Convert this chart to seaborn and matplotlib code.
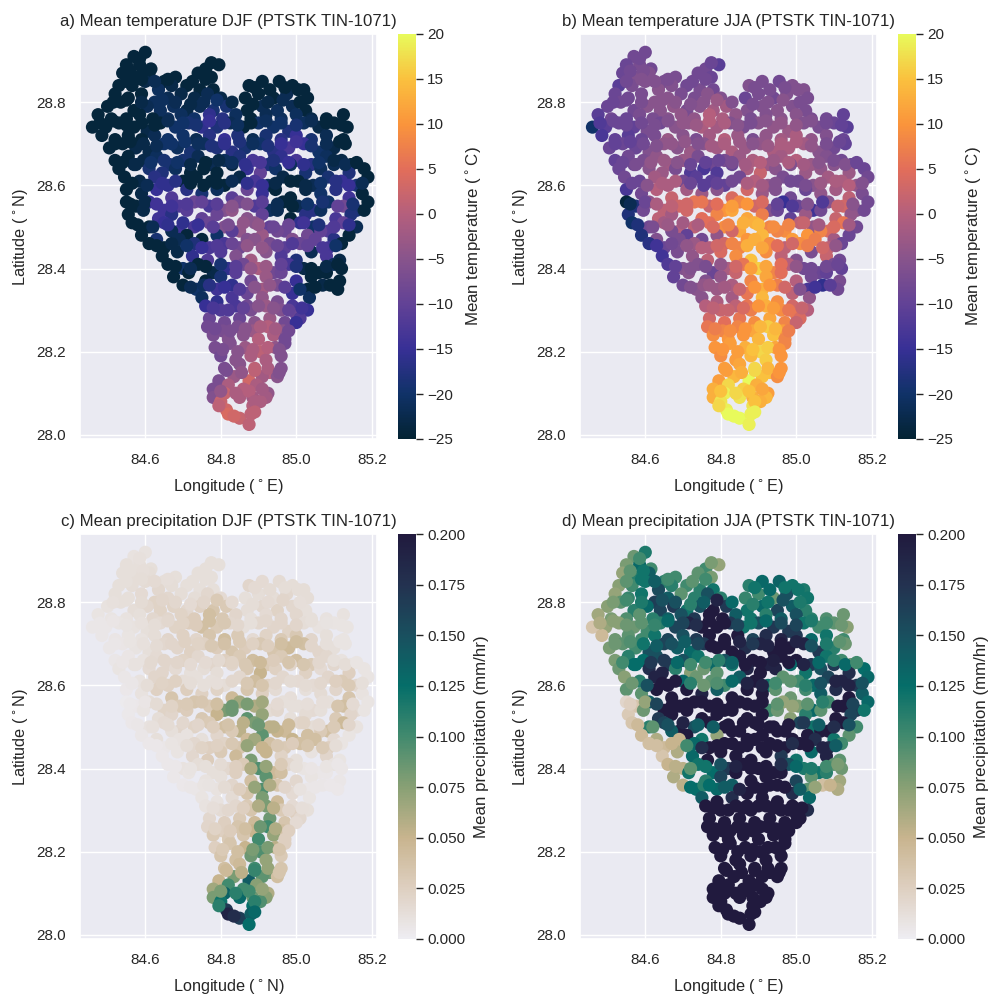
import numpy as np
import pandas as pd
import matplotlib
matplotlib.use('Agg')
import matplotlib.pyplot as plt
import seaborn as sns
from matplotlib.colors import LinearSegmentedColormap, Normalize
from matplotlib.cm import ScalarMappable

# one line per band of latitude, north to south, second block fills the gaps
lon = [
    84.57, 84.60,
    84.55, 84.585, 84.615, 84.76, 84.795,
    84.54, 84.575, 84.61, 84.65, 84.68, 84.74, 84.775,
    84.53, 84.565, 84.60, 84.635, 84.67, 84.71, 84.745, 84.78, 84.875, 84.91, 84.955, 84.99, 85.02,
    84.52, 84.555, 84.59, 84.625, 84.66, 84.695, 84.73, 84.765, 84.80, 84.865, 84.90, 84.94, 84.975, 85.03,
    84.50, 84.535, 84.57, 84.605, 84.64, 84.675, 84.71, 84.745, 84.78, 84.815, 84.87, 84.91, 84.95, 84.99, 85.025,
    84.475, 84.51, 84.55, 84.585, 84.62, 84.66, 84.695, 84.73, 84.77, 84.805, 84.84, 84.88, 84.92, 84.96, 85.0, 85.04, 85.08, 85.125,
    84.46, 84.495, 84.53, 84.57, 84.605, 84.64, 84.68, 84.715, 84.75, 84.79, 84.825, 84.86, 84.90, 84.94, 84.98, 85.02, 85.06, 85.10, 85.135,
    84.485, 84.52, 84.555, 84.59, 84.625, 84.66, 84.70, 84.735, 84.77, 84.81, 84.845, 84.885, 84.92, 84.96, 85.0, 85.04, 85.08, 85.125,
    84.505, 84.54, 84.575, 84.61, 84.65, 84.685, 84.72, 84.755, 84.79, 84.83, 84.865, 84.905, 84.94, 84.98, 85.02, 85.06, 85.10, 85.13,
    84.52, 84.555, 84.595, 84.63, 84.665, 84.70, 84.74, 84.775, 84.81, 84.85, 84.885, 84.925, 84.96, 85.0, 85.04, 85.08, 85.12, 85.145,
    84.53, 84.57, 84.61, 84.645, 84.68, 84.72, 84.755, 84.79, 84.83, 84.87, 84.905, 84.945, 84.985, 85.025, 85.065, 85.10, 85.14, 85.18,
    84.545, 84.585, 84.625, 84.66, 84.70, 84.735, 84.775, 84.81, 84.85, 84.89, 84.925, 84.965, 85.005, 85.045, 85.085, 85.12, 85.16, 85.19,
    84.55, 84.59, 84.63, 84.67, 84.71, 84.75, 84.79, 84.83, 84.87, 84.91, 84.945, 84.985, 85.025, 85.065, 85.105, 85.14, 85.175,
    84.55, 84.575, 84.61, 84.65, 84.69, 84.73, 84.77, 84.81, 84.85, 84.89, 84.93, 84.965, 85.005, 85.045, 85.085, 85.125, 85.16, 85.19,
    84.555, 84.595, 84.635, 84.67, 84.71, 84.75, 84.79, 84.83, 84.87, 84.91, 84.95, 84.985, 85.025, 85.065, 85.105, 85.145, 85.18,
    84.565, 84.61, 84.65, 84.69, 84.73, 84.77, 84.81, 84.85, 84.89, 84.93, 84.97, 85.01, 85.045, 85.085, 85.125, 85.16,
    84.59, 84.63, 84.67, 84.71, 84.75, 84.79, 84.83, 84.87, 84.91, 84.95, 84.99, 85.03, 85.065, 85.10, 85.14,
    84.61, 84.65, 84.69, 84.73, 84.77, 84.81, 84.85, 84.89, 84.93, 84.97, 85.01, 85.05, 85.085, 85.12,
    84.645, 84.685, 84.725, 84.765, 84.80, 84.84, 84.88, 84.92, 84.96, 85.0, 85.04, 85.08, 85.115,
    84.66, 84.70, 84.74, 84.78, 84.82, 84.86, 84.90, 84.94, 84.98, 85.02, 85.06, 85.10, 85.12,
    84.675, 84.715, 84.76, 84.80, 84.84, 84.88, 84.92, 84.96, 85.0, 85.04, 85.08, 85.115,
    84.70, 84.735, 84.755, 84.79, 84.83, 84.87, 84.91, 84.95, 84.99, 85.03, 85.07, 85.11,
    84.75, 84.79, 84.83, 84.87, 84.91, 84.95, 84.99, 85.035,
    84.76, 84.80, 84.84, 84.88, 84.92, 84.96, 85.0, 85.03,
    84.77, 84.81, 84.85, 84.89, 84.93, 84.97, 85.01,
    84.765, 84.805, 84.845, 84.885, 84.925, 84.965, 85.0,
    84.78, 84.82, 84.86, 84.90, 84.94, 84.97,
    84.785, 84.825, 84.865, 84.905, 84.945, 84.97,
    84.80, 84.84, 84.88, 84.92, 84.96,
    84.81, 84.85, 84.89, 84.93, 84.96,
    84.795, 84.835, 84.875, 84.91, 84.95,
    84.78, 84.82, 84.86, 84.895, 84.925,
    84.78, 84.81, 84.85, 84.885, 84.92,
    84.80, 84.815, 84.885, 84.905,
    84.82, 84.85, 84.88,
    84.875,
    # gaps
    84.585, 84.56, 84.595, 84.775,
    84.55, 84.59, 84.625, 84.66, 84.725, 84.76, 84.89, 84.93, 84.97, 85.005,
    84.515, 84.55, 84.59, 84.645, 84.68, 84.72, 84.755, 84.79, 84.83, 84.885, 84.925, 84.965, 85.01,
    84.48, 84.515, 84.55, 84.59, 84.625, 84.66, 84.70, 84.735, 84.77, 84.81, 84.845, 84.88, 84.92, 84.96, 85.0, 85.04, 85.08, 85.12,
    84.52, 84.56, 84.595, 84.63, 84.67, 84.705, 84.74, 84.775, 84.81, 84.85, 84.885, 84.925, 84.96, 85.0, 85.04, 85.08, 85.115,
    84.54, 84.575, 84.615, 84.65, 84.685, 84.72, 84.76, 84.795, 84.83, 84.865, 84.905, 84.94, 84.98, 85.02, 85.06, 85.10, 85.13, 85.16,
    84.565, 84.605, 84.645, 84.68, 84.72, 84.755, 84.79, 84.83, 84.87, 84.91, 84.945, 84.985, 85.025, 85.065, 85.105, 85.14, 85.175,
    84.56, 84.60, 84.63, 84.67, 84.71, 84.75, 84.79, 84.83, 84.87, 84.91, 84.95, 84.99, 85.03, 85.07, 85.11, 85.15,
    84.58, 84.62, 84.66, 84.70, 84.74, 84.78, 84.82, 84.86, 84.90, 84.94, 84.98, 85.02, 85.06, 85.10, 85.14,
    84.63, 84.67, 84.71, 84.75, 84.79, 84.83, 84.87, 84.91, 84.95, 84.99, 85.03, 85.07, 85.105,
    84.68, 84.72, 84.76, 84.80, 84.84, 84.88, 84.92, 84.96, 85.0, 85.04, 85.08, 85.11,
    84.72, 84.77, 84.81, 84.85, 84.89, 84.93, 84.97, 85.01, 85.05, 85.09,
    84.78, 84.82, 84.86, 84.90, 84.94, 84.98, 85.015,
    84.785, 84.825, 84.865, 84.905, 84.945, 84.98,
    84.805, 84.845, 84.885, 84.925, 84.955,
    84.815, 84.855, 84.89, 84.925, 84.955,
    84.80, 84.84, 84.875, 84.91,
    84.795, 84.89,
    84.835, 84.89,
]
lat = [
    28.91, 28.92,
    28.89, 28.89, 28.88, 28.88, 28.89,
    28.87, 28.86, 28.87, 28.85, 28.86, 28.87, 28.86,
    28.84, 28.84, 28.85, 28.83, 28.84, 28.84, 28.83, 28.83, 28.84, 28.85, 28.85, 28.84, 28.83,
    28.82, 28.81, 28.82, 28.80, 28.81, 28.82, 28.81, 28.82, 28.81, 28.81, 28.82, 28.81, 28.82, 28.81,
    28.79, 28.80, 28.78, 28.79, 28.78, 28.79, 28.78, 28.79, 28.78, 28.79, 28.78, 28.79, 28.78, 28.79, 28.78,
    28.77, 28.76, 28.76, 28.77, 28.76, 28.76, 28.77, 28.76, 28.77, 28.76, 28.77, 28.76, 28.77, 28.76, 28.77, 28.76, 28.76, 28.77,
    28.74, 28.74, 28.75, 28.74, 28.73, 28.75, 28.74, 28.75, 28.74, 28.74, 28.75, 28.74, 28.75, 28.74, 28.73, 28.75, 28.74, 28.75, 28.74,
    28.72, 28.71, 28.72, 28.71, 28.72, 28.71, 28.72, 28.71, 28.72, 28.71, 28.72, 28.71, 28.72, 28.71, 28.72, 28.71, 28.72, 28.71,
    28.69, 28.70, 28.69, 28.68, 28.70, 28.69, 28.68, 28.70, 28.69, 28.68, 28.69, 28.70, 28.68, 28.69, 28.70, 28.68, 28.69, 28.70,
    28.66, 28.67, 28.66, 28.67, 28.65, 28.66, 28.67, 28.65, 28.66, 28.67, 28.66, 28.65, 28.67, 28.66, 28.65, 28.67, 28.66, 28.65,
    28.64, 28.65, 28.64, 28.63, 28.64, 28.63, 28.64, 28.63, 28.65, 28.64, 28.63, 28.64, 28.65, 28.63, 28.64, 28.65, 28.63, 28.64,
    28.62, 28.61, 28.62, 28.60, 28.61, 28.62, 28.61, 28.60, 28.62, 28.61, 28.60, 28.62, 28.61, 28.60, 28.62, 28.61, 28.60, 28.62,
    28.59, 28.58, 28.59, 28.57, 28.59, 28.58, 28.59, 28.57, 28.59, 28.58, 28.59, 28.57, 28.59, 28.58, 28.59, 28.57, 28.58,
    28.56, 28.55, 28.56, 28.54, 28.55, 28.56, 28.55, 28.54, 28.56, 28.55, 28.54, 28.56, 28.55, 28.54, 28.56, 28.55, 28.54, 28.56,
    28.53, 28.54, 28.52, 28.53, 28.54, 28.52, 28.53, 28.54, 28.52, 28.53, 28.54, 28.52, 28.53, 28.54, 28.52, 28.53, 28.54,
    28.51, 28.50, 28.51, 28.49, 28.50, 28.51, 28.50, 28.49, 28.51, 28.50, 28.49, 28.51, 28.50, 28.49, 28.51, 28.50,
    28.48, 28.47, 28.49, 28.48, 28.47, 28.48, 28.49, 28.47, 28.48, 28.49, 28.47, 28.48, 28.49, 28.47, 28.48,
    28.46, 28.45, 28.47, 28.46, 28.45, 28.46, 28.45, 28.47, 28.46, 28.45, 28.46, 28.47, 28.45, 28.46,
    28.43, 28.44, 28.43, 28.42, 28.44, 28.43, 28.42, 28.44, 28.43, 28.42, 28.44, 28.43, 28.42,
    28.41, 28.40, 28.41, 28.39, 28.40, 28.41, 28.40, 28.39, 28.41, 28.40, 28.39, 28.41, 28.40,
    28.38, 28.39, 28.37, 28.38, 28.39, 28.37, 28.38, 28.39, 28.37, 28.38, 28.39, 28.37,
    28.36, 28.35, 28.36, 28.35, 28.36, 28.34, 28.35, 28.36, 28.34, 28.35, 28.36, 28.35,
    28.33, 28.32, 28.33, 28.31, 28.33, 28.32, 28.31, 28.33,
    28.31, 28.30, 28.31, 28.30, 28.31, 28.30, 28.29, 28.30,
    28.28, 28.27, 28.28, 28.27, 28.28, 28.27, 28.28,
    28.26, 28.25, 28.26, 28.25, 28.26, 28.25, 28.27,
    28.24, 28.23, 28.24, 28.23, 28.24, 28.23,
    28.21, 28.22, 28.21, 28.20, 28.21, 28.22,
    28.19, 28.18, 28.19, 28.18, 28.19,
    28.16, 28.17, 28.16, 28.15, 28.16,
    28.13, 28.14, 28.13, 28.14, 28.14,
    28.11, 28.12, 28.11, 28.12, 28.10,
    28.09, 28.10, 28.09, 28.09, 28.09,
    28.08, 28.06, 28.07, 28.08,
    28.05, 28.04, 28.05,
    28.025,
    # gaps
    28.905, 28.875, 28.875, 28.895,
    28.85, 28.855, 28.85, 28.855, 28.85, 28.855, 28.835, 28.83, 28.835, 28.83,
    28.80, 28.805, 28.80, 28.805, 28.80, 28.795, 28.80, 28.805, 28.80, 28.795, 28.80, 28.805, 28.80,
    28.75, 28.755, 28.745, 28.75, 28.745, 28.755, 28.75, 28.745, 28.755, 28.75, 28.745, 28.75, 28.755, 28.75, 28.745, 28.755, 28.75, 28.745,
    28.70, 28.705, 28.70, 28.695, 28.70, 28.705, 28.70, 28.695, 28.70, 28.705, 28.70, 28.695, 28.70, 28.705, 28.695, 28.70, 28.705,
    28.655, 28.65, 28.655, 28.66, 28.655, 28.65, 28.655, 28.66, 28.655, 28.65, 28.655, 28.66, 28.655, 28.65, 28.655, 28.66, 28.65, 28.655,
    28.605, 28.60, 28.605, 28.61, 28.605, 28.60, 28.605, 28.61, 28.605, 28.60, 28.605, 28.61, 28.60, 28.605, 28.61, 28.60, 28.605,
    28.555, 28.56, 28.555, 28.55, 28.555, 28.56, 28.555, 28.55, 28.555, 28.56, 28.555, 28.55, 28.555, 28.56, 28.55, 28.555,
    28.505, 28.50, 28.505, 28.51, 28.505, 28.50, 28.505, 28.51, 28.505, 28.50, 28.505, 28.51, 28.505, 28.50, 28.505,
    28.455, 28.46, 28.455, 28.45, 28.455, 28.46, 28.455, 28.45, 28.455, 28.46, 28.455, 28.45, 28.455,
    28.405, 28.40, 28.405, 28.41, 28.405, 28.40, 28.405, 28.41, 28.405, 28.40, 28.405, 28.41,
    28.355, 28.36, 28.355, 28.35, 28.355, 28.36, 28.355, 28.35, 28.355, 28.36,
    28.305, 28.30, 28.305, 28.31, 28.305, 28.30, 28.305,
    28.255, 28.25, 28.255, 28.26, 28.255, 28.25,
    28.205, 28.20, 28.205, 28.21, 28.205,
    28.155, 28.15, 28.155, 28.16, 28.15,
    28.105, 28.10, 28.105, 28.11,
    28.07, 28.08,
    28.045, 28.055,
]
temp_djf = [
    -24, -24,
    -24, -24, -24, -24, -24,
    -24, -24, -24, -24, -24, -24, -24,
    -24, -24, -23, -21, -23, -24, -24, -24, -24, -24, -24, -24, -24,
    -24, -24, -24, -21, -22, -23, -23, -22, -23, -24, -24, -24, -22, -24,
    -24, -24, -24, -22, -21, -21, -23, -22, -19, -19, -24, -22, -21, -22, -24,
    -24, -24, -24, -24, -24, -21, -21, -20, -16, -17, -21, -24, -22, -21, -21, -23, -24, -24,
    -24, -24, -24, -24, -23, -24, -20, -19, -16, -18, -22, -24, -20, -20, -18, -21, -23, -24, -24,
    -24, -24, -24, -24, -22, -20, -20, -22, -17, -15, -18, -22, -19, -17, -15, -19, -22, -24,
    -24, -24, -23, -23, -20, -21, -19, -21, -18, -17, -19, -20, -17, -13, -15, -20, -23, -24,
    -24, -24, -23, -21, -19, -19, -22, -22, -21, -18, -13, -18, -16, -13, -17, -21, -23, -24,
    -24, -23, -19, -18, -21, -24, -24, -24, -23, -15, -10, -20, -21, -19, -21, -22, -18, -24,
    -24, -23, -17, -16, -24, -24, -24, -24, -23, -13, -21, -23, -24, -22, -19, -15, -19, -24,
    -24, -23, -15, -12, -17, -19, -21, -11, -9, -15, -24, -24, -23, -20, -17, -14, -24,
    -24, -24, -15, -14, -12, -9, -13, -6, -8, -12, -21, -24, -22, -17, -20, -8, -19, -24,
    -24, -23, -14, -17, -11, -10, -9, -4, -5, -10, -22, -24, -17, -21, -13, -18, -24,
    -24, -24, -15, -14, -13, -9, -6, -4, -5, -10, -9, -16, -20, -12, -10, -22,
    -24, -19, -22, -24, -24, -20, -11, -6, -3, -8, -6, -8, -10, -17, -24,
    -24, -24, -22, -18, -13, -13, -8, -5, -7, -11, -9, -10, -14, -24,
    -24, -23, -16, -12, -12, -6, -2, -5, -12, -18, -22, -13, -23,
    -24, -20, -24, -23, -16, -8, -1, -8, -13, -23, -24, -21, -24,
    -24, -24, -24, -19, -11, -8, -3, -9, -15, -24, -24, -24,
    -24, -20, -21, -14, -16, -9, -2, -7, -15, -24, -23, -24,
    -21, -16, -13, -8, -4, -7, -13, -21,
    -15, -12, -13, -7, -3, -6, -9, -15,
    -9, -8, -9, -5, -3, -8, -12,
    -8, -7, -7, -3, 0, -5, -15,
    -7, -6, -5, 0, -1, -8,
    -7, -6, -3, 1, -4, -8,
    -8, -5, -1, -1, -6,
    -7, -5, 1, 0, -6,
    -7, -3, 3, -2, -5,
    -7, -1, 0, -1, -4,
    -6, 2, -1, -2, -2,
    2, 3, 0, -1,
    4, 2, 1,
    1,
    # gaps
    -24, -24, -24, -24,
    -24, -24, -22, -24, -24, -24, -24, -24, -24, -24,
    -24, -24, -23, -21, -22, -23, -22, -20, -23, -24, -23, -22, -24,
    -24, -24, -24, -24, -24, -22, -20, -19, -15, -17, -21, -24, -21, -20, -19, -22, -24, -24,
    -24, -24, -23, -22, -20, -20, -21, -18, -16, -18, -21, -18, -15, -14, -19, -22, -24,
    -24, -23, -20, -19, -20, -23, -24, -23, -21, -16, -13, -18, -15, -16, -20, -23, -22, -24,
    -24, -22, -16, -17, -24, -24, -24, -22, -16, -15, -23, -24, -23, -20, -17, -15, -22,
    -24, -23, -14, -14, -12, -10, -11, -5, -6, -11, -22, -24, -20, -19, -10, -19,
    -24, -22, -16, -16, -15, -11, -7, -4, -4, -9, -9, -14, -18, -12, -16,
    -24, -23, -20, -15, -12, -9, -4, -4, -9, -12, -10, -13, -20,
    -24, -22, -24, -19, -11, -4, -3, -10, -18, -24, -23, -24,
    -22, -17, -15, -12, -5, -4, -11, -20, -24, -24,
    -13, -12, -10, -5, -5, -10, -14,
    -8, -7, -5, -1, -2, -8,
    -7, -5, -1, 0, -6,
    -7, -4, 1, -1, -6,
    -4, -1, 0, -2,
    1, -1,
    3, 1,
]
temp_jja = [
    -8, -8,
    -9, -7, -8, -8, -11,
    -9, -6, -6, -7, -7, -8, -9,
    -11, -7, -6, -5, -6, -8, -7, -8, -6, -7, -8, -6, -6,
    -9, -8, -7, -5, -5, -7, -7, -5, -6, -9, -7, -8, -6, -7,
    -9, -8, -8, -5, -5, -4, -7, -5, -2, -2, -6, -6, -5, -6, -7,
    -11, -8, -9, -7, -7, -5, -4, -4, 0, -1, -4, -7, -6, -5, -5, -7, -8, -10,
    -20, -11, -9, -10, -7, -8, -5, -4, -1, -2, -6, -7, -5, -4, -3, -6, -7, -9, -11,
    -13, -10, -11, -9, -7, -3, -5, -7, -2, 0, -3, -7, -4, -2, -1, -4, -6, -9,
    -9, -9, -9, -6, -4, -5, -3, -5, -2, -1, -3, -4, -1, -1, -2, -5, -8, -10,
    -10, -8, -7, -4, -2, -3, -7, -8, -7, -3, -1, -3, -2, 0, -3, -6, -8, -9,
    -9, -8, -5, -3, -7, -12, -13, -12, -9, -1, 2, -5, -6, -3, -4, -5, -3, -9,
    -8, -9, -2, -1, -8, -11, -11, -10, -8, 0, -4, -7, -8, -5, -2, -1, -4, -8,
    -13, -8, 0, 2, -2, -3, -5, 4, 3, -3, -6, -8, -9, -4, -2, 1, -7,
    -24, -18, -4, 1, 3, 6, 2, 10, 8, 3, -6, -15, -9, -14, -5, 3, -5, -8,
    -18, -8, 1, -2, 3, 5, 8, 12, 12, 7, -9, -10, -3, -8, 2, -4, -8,
    -20, -8, -2, 0, 1, 5, 9, 12, 13, 8, 9, 1, -4, 4, 6, -8,
    -18, -6, -7, -10, -8, -4, 3, 10, 14, 8, 11, 10, 8, -2, -9,
    -17, -9, -7, -3, 0, 3, 8, 13, 9, 1, 9, 7, 1, -9,
    -14, -7, -4, 1, 4, 9, 15, 9, 1, -6, -7, 2, -8,
    -12, -6, -6, -9, -1, 6, 16, 8, 0, -8, -9, -7, -10,
    -10, -5, -6, -4, 2, 8, 12, 5, 0, -8, -10, -7,
    -8, -5, -4, -3, -1, 6, 13, 7, 1, -13, -16, -8,
    -5, -1, -2, 6, 14, 9, 3, -4,
    0, 2, 1, 7, 13, 9, 6, 0,
    3, 5, 6, 9, 12, 8, 4,
    6, 8, 8, 12, 16, 11, 2,
    9, 10, 10, 14, 15, 8,
    10, 11, 13, 17, 12, 8,
    9, 11, 14, 16, 10,
    11, 12, 17, 15, 10,
    11, 14, 20, 15, 9,
    13, 17, 16, 13, 11,
    13, 19, 18, 13, 14,
    18, 19, 18, 13,
    20, 20, 19,
    19,
    # gaps
    -8, -8, -7, -9,
    -8, -6, -6, -7, -8, -8, -7, -7, -7, -6,
    -9, -8, -7, -5, -5, -6, -5, -3, -6, -7, -6, -5, -7,
    -12, -9, -9, -8, -7, -6, -4, -3, 0, -1, -5, -7, -5, -4, -4, -6, -8, -10,
    -10, -10, -8, -6, -4, -4, -6, -2, -1, -3, -5, -3, -1, -1, -4, -7, -9,
    -9, -7, -4, -3, -5, -9, -10, -9, -7, -2, 0, -3, -1, -2, -5, -7, -6, -9,
    -9, -5, -1, -1, -9, -11, -10, -8, -1, -2, -6, -8, -7, -3, -1, 0, -6,
    -22, -9, -1, 1, 3, 6, 5, 11, 10, 4, -10, -12, -6, -12, 2, -5,
    -18, -7, -3, -2, -1, 4, 8, 13, 14, 9, 8, 2, -2, 4, -2,
    -14, -8, -4, 0, 3, 8, 13, 12, 5, 3, 7, 3, -4,
    -10, -6, -7, -4, 3, 11, 12, 5, -4, -8, -8, -9,
    -6, -3, -2, 2, 10, 10, 3, -6, -14, -11,
    1, 2, 4, 10, 11, 6, 2,
    7, 9, 10, 14, 14, 7,
    10, 11, 15, 16, 10,
    11, 13, 17, 14, 10,
    15, 17, 15, 12,
    17, 15,
    20, 19,
]
precip_djf = [
    .010, .010,
    .012, .012, .012, .012, .012,
    .012, .014, .014, .012, .012, .012, .012,
    .012, .014, .015, .018, .014, .012, .012, .012, .020, .016, .015, .014, .014,
    .012, .012, .016, .022, .018, .014, .014, .018, .016, .012, .014, .014, .018, .014,
    .010, .012, .014, .018, .022, .022, .018, .024, .035, .030, .014, .018, .022, .018, .012,
    .008, .008, .010, .012, .018, .020, .022, .028, .040, .032, .020, .012, .016, .020, .018, .012, .010, .010,
    .006, .006, .008, .010, .012, .016, .022, .028, .040, .030, .018, .012, .018, .020, .022, .014, .010, .008, .008,
    .006, .007, .008, .010, .014, .020, .024, .020, .035, .042, .030, .016, .022, .030, .032, .020, .012, .008,
    .006, .007, .009, .012, .018, .020, .024, .024, .028, .035, .028, .032, .035, .045, .040, .020, .012, .008,
    .006, .007, .010, .016, .020, .022, .018, .020, .025, .030, .042, .030, .030, .040, .030, .018, .010, .008,
    .008, .010, .016, .020, .016, .012, .014, .014, .020, .032, .050, .024, .020, .024, .016, .018, .025, .008,
    .006, .010, .020, .024, .014, .012, .012, .014, .018, .042, .022, .018, .016, .016, .020, .030, .018, .008,
    .005, .010, .024, .035, .026, .024, .022, .045, .035, .025, .015, .013, .012, .015, .020, .035, .010,
    .003, .005, .014, .022, .030, .035, .030, .080, .065, .060, .015, .012, .012, .016, .012, .040, .015, .008,
    .004, .008, .014, .020, .028, .032, .050, .085, .090, .070, .018, .012, .015, .012, .030, .020, .008,
    .005, .010, .016, .020, .022, .030, .040, .055, .080, .055, .045, .020, .014, .040, .045, .010,
    .006, .012, .012, .010, .012, .020, .030, .045, .090, .050, .050, .040, .030, .016, .008,
    .005, .006, .010, .018, .025, .022, .035, .065, .040, .030, .040, .040, .025, .008,
    .005, .008, .018, .028, .030, .045, .080, .050, .022, .012, .010, .020, .008,
    .005, .010, .014, .012, .018, .030, .095, .045, .018, .008, .006, .010, .006,
    .005, .008, .010, .012, .025, .040, .090, .040, .018, .008, .006, .006,
    .005, .006, .008, .010, .020, .035, .095, .035, .016, .006, .006, .005,
    .008, .010, .015, .030, .080, .045, .016, .008,
    .010, .015, .018, .035, .080, .030, .025, .012,
    .018, .025, .030, .045, .085, .035, .018,
    .020, .025, .035, .050, .100, .040, .016,
    .030, .030, .035, .100, .070, .025,
    .025, .035, .050, .095, .055, .025,
    .035, .040, .085, .070, .030,
    .040, .045, .100, .085, .035,
    .050, .080, .140, .090, .040,
    .065, .100, .100, .075, .060,
    .080, .135, .130, .085, .075,
    .120, .170, .125, .095,
    .190, .165, .140,
    .125,
    # gaps
    .011, .012, .013, .012,
    .012, .014, .016, .013, .012, .012, .016, .015, .014, .014,
    .011, .012, .015, .020, .018, .016, .020, .030, .016, .014, .016, .020, .013,
    .006, .007, .009, .011, .014, .018, .022, .028, .040, .032, .018, .012, .018, .020, .020, .012, .009, .008,
    .006, .008, .011, .015, .020, .024, .022, .032, .038, .030, .024, .026, .040, .042, .020, .012, .008,
    .007, .010, .017, .020, .020, .016, .016, .017, .022, .032, .045, .028, .035, .034, .018, .012, .014, .008,
    .006, .014, .022, .024, .014, .012, .013, .018, .032, .035, .018, .015, .015, .018, .025, .030, .012,
    .004, .007, .015, .022, .030, .033, .040, .085, .080, .065, .016, .012, .013, .013, .035, .016,
    .006, .011, .015, .018, .020, .026, .036, .055, .085, .055, .045, .022, .016, .030, .020,
    .005, .008, .014, .022, .024, .032, .070, .050, .032, .028, .035, .030, .014,
    .005, .009, .012, .015, .025, .060, .070, .030, .012, .007, .008, .006,
    .006, .009, .015, .025, .070, .060, .020, .010, .006, .005,
    .013, .018, .025, .060, .055, .020, .013,
    .022, .028, .040, .085, .060, .025,
    .030, .040, .080, .080, .035,
    .045, .055, .105, .070, .035,
    .080, .110, .100, .070,
    .110, .110,
    .180, .130,
]
precip_jja = [
    .085, .115,
    .080, .130, .100, .100, .070,
    .070, .110, .140, .110, .100, .090, .080,
    .075, .100, .120, .155, .110, .100, .110, .120, .110, .130, .135, .120, .115,
    .070, .105, .120, .165, .140, .090, .110, .150, .110, .105, .100, .085, .150, .120,
    .075, .090, .110, .130, .160, .170, .120, .150, .200, .170, .120, .130, .160, .140, .110,
    .065, .080, .095, .090, .110, .140, .150, .170, .200, .200, .140, .120, .110, .140, .150, .110, .095, .085,
    .035, .070, .075, .085, .100, .110, .160, .190, .200, .200, .170, .120, .150, .170, .170, .120, .100, .090, .075,
    .045, .085, .090, .100, .120, .160, .150, .170, .200, .200, .200, .160, .180, .190, .170, .130, .120, .100,
    .080, .090, .100, .150, .160, .140, .130, .170, .200, .200, .180, .190, .200, .200, .190, .170, .110, .085,
    .080, .110, .125, .150, .170, .150, .120, .130, .150, .200, .200, .190, .200, .200, .170, .120, .100, .085,
    .085, .125, .180, .190, .110, .075, .085, .090, .120, .190, .200, .190, .130, .120, .150, .170, .180, .125,
    .075, .110, .190, .200, .130, .085, .090, .100, .140, .200, .120, .090, .100, .130, .160, .190, .170, .130,
    .090, .090, .200, .200, .200, .190, .140, .200, .200, .200, .090, .085, .100, .140, .180, .200, .140,
    .020, .035, .140, .200, .200, .200, .200, .200, .200, .200, .100, .070, .080, .130, .100, .200, .170, .130,
    .030, .085, .170, .200, .200, .200, .200, .200, .200, .200, .085, .075, .110, .090, .200, .160, .120,
    .035, .110, .160, .200, .150, .200, .200, .200, .200, .200, .200, .160, .120, .200, .200, .100,
    .045, .060, .140, .200, .120, .070, .200, .200, .200, .200, .200, .200, .200, .120, .090,
    .040, .045, .050, .130, .200, .200, .200, .200, .200, .200, .200, .180, .180, .100,
    .035, .060, .130, .200, .200, .200, .200, .200, .170, .120, .130, .190, .090,
    .050, .055, .120, .125, .170, .200, .200, .200, .150, .115, .120, .090, .085,
    .060, .120, .110, .160, .200, .200, .200, .200, .160, .090, .110, .065,
    .055, .125, .110, .130, .140, .200, .200, .200, .180, .090, .040, .060,
    .140, .200, .180, .200, .200, .200, .200, .130,
    .200, .200, .200, .200, .200, .200, .200, .180,
    .200, .200, .200, .200, .200, .200, .200,
    .200, .200, .200, .200, .200, .200, .200,
    .200, .200, .200, .200, .200, .200,
    .200, .200, .200, .200, .200, .200,
    .200, .200, .200, .200, .200,
    .200, .200, .200, .200, .200,
    .200, .200, .200, .200, .200,
    .200, .200, .200, .200, .200,
    .200, .200, .200, .200, .200,
    .200, .200, .200, .200,
    .200, .200, .200,
    .200,
    # gaps
    .100, .090, .120, .080,
    .090, .120, .140, .100, .090, .100, .120, .130, .120, .120,
    .080, .100, .115, .150, .150, .110, .140, .190, .130, .110, .120, .150, .115,
    .060, .075, .085, .090, .105, .130, .160, .180, .200, .200, .160, .120, .130, .155, .160, .115, .100, .085,
    .085, .095, .120, .140, .150, .140, .160, .200, .200, .190, .170, .190, .200, .190, .150, .115, .090,
    .100, .125, .170, .170, .130, .100, .100, .110, .135, .200, .200, .195, .200, .190, .130, .110, .130, .100,
    .085, .150, .200, .200, .110, .085, .095, .130, .190, .190, .100, .090, .110, .150, .190, .190, .150,
    .025, .070, .160, .200, .200, .200, .200, .200, .200, .200, .090, .070, .090, .110, .200, .160,
    .045, .090, .150, .190, .140, .140, .200, .200, .200, .200, .200, .170, .140, .180, .150,
    .040, .050, .100, .180, .200, .200, .200, .200, .200, .180, .200, .190, .140,
    .055, .090, .120, .150, .190, .200, .200, .180, .130, .115, .100, .080,
    .125, .125, .140, .190, .200, .200, .200, .140, .070, .050,
    .200, .200, .200, .200, .200, .200, .200,
    .200, .200, .200, .200, .200, .200,
    .200, .200, .200, .200, .200,
    .200, .200, .200, .200, .200,
    .200, .200, .200, .200,
    .200, .200,
    .200, .200,
]

x_ticks = [84.6, 84.8, 85.0, 85.2]
y_ticks = [28.0, 28.2, 28.4, 28.6, 28.8]
temp_ticks = [-25, -20, -15, -10, -5, 0, 5, 10, 15, 20]
precip_ticks = [0.0, 0.025, 0.05, 0.075, 0.1, 0.125, 0.15, 0.175, 0.2]

sns.set_theme(style='darkgrid')
plt.rcParams['font.family'] = ['Liberation Sans', 'DejaVu Sans']

# cmocean is not installed, so thermal and rain are rebuilt by eye
thermal = LinearSegmentedColormap.from_list('thermal', [
    (3/255, 35/255, 51/255), (16/255, 50/255, 104/255), (56/255, 48/255, 150/255),
    (98/255, 66/255, 150/255), (136/255, 84/255, 140/255), (180/255, 95/255, 125/255),
    (226/255, 110/255, 90/255), (250/255, 148/255, 60/255), (250/255, 192/255, 62/255),
    (232/255, 250/255, 91/255)])
rain = LinearSegmentedColormap.from_list('rain', [
    (0, (238/255, 237/255, 242/255)), (.125, (222/255, 207/255, 192/255)),
    (.25, (200/255, 180/255, 142/255)), (.375, (136/255, 160/255, 116/255)),
    (.5, (66/255, 138/255, 110/255)), (.625, (5/255, 110/255, 105/255)),
    (.75, (25/255, 80/255, 95/255)), (.875, (35/255, 50/255, 80/255)),
    (1, (33/255, 26/255, 62/255))])

df = pd.DataFrame({'lon': lon, 'lat': lat, 'temp_djf': temp_djf, 'temp_jja': temp_jja,
                   'precip_djf': precip_djf, 'precip_jja': precip_jja})

W, H = 991, 994
fig = plt.figure(figsize=(W / 100, H / 100), dpi=100)


def panel(left, top, col, title, xlabel, cmap, vmin, vmax, ticks, cbar_label, cbar_pad):
    ax = fig.add_axes([left / W, 1 - (top + 405) / H, 297 / W, 405 / H])
    sns.scatterplot(data=df, x='lon', y='lat', hue=col, palette=cmap, hue_norm=(vmin, vmax),
                    s=90, linewidth=0, legend=False, ax=ax)
    ax.set_xlim(84.427, 85.214)
    ax.set_ylim(27.99, 28.964)
    ax.set_xticks(x_ticks)
    ax.set_yticks(y_ticks)
    ax.tick_params(labelsize=11, pad=4)
    ax.set_title(title, fontsize=12.1, pad=6)
    ax.set_xlabel(xlabel, fontsize=11.7, labelpad=7)
    ax.set_ylabel('Latitude ($^\\circ$N)', fontsize=11.7, labelpad=5)

    cax = fig.add_axes([(left + 318) / W, 1 - (top + 405) / H, 18 / W, 405 / H])
    sm = ScalarMappable(norm=Normalize(vmin, vmax), cmap=cmap)
    cb = fig.colorbar(sm, cax=cax, ticks=ticks)
    cb.set_label(cbar_label, fontsize=12.2, labelpad=cbar_pad)
    cb.outline.set_visible(False)
    cb.ax.tick_params(labelsize=11, length=5, width=1, color='.15', right=True, pad=3)


panel(80, 34, 'temp_djf', 'a) Mean temperature DJF (PTSTK TIN-1071)', 'Longitude ($^\\circ$E)',
      thermal, -25, 20, temp_ticks, 'Mean temperature ($^\\circ$C)', 8)
panel(580, 34, 'temp_jja', 'b) Mean temperature JJA (PTSTK TIN-1071)', 'Longitude ($^\\circ$E)',
      thermal, -25, 20, temp_ticks, 'Mean temperature ($^\\circ$C)', 8)
panel(80, 534, 'precip_djf', 'c) Mean precipitation DJF (PTSTK TIN-1071)', 'Longitude ($^\\circ$N)',
      rain, 0, 0.2, precip_ticks, 'Mean precipitation (mm/hr)', 6)
panel(580, 534, 'precip_jja', 'd) Mean precipitation JJA (PTSTK TIN-1071)', 'Longitude ($^\\circ$E)',
      rain, 0, 0.2, precip_ticks, 'Mean precipitation (mm/hr)', 6)

fig.savefig('out.png', dpi=100)
